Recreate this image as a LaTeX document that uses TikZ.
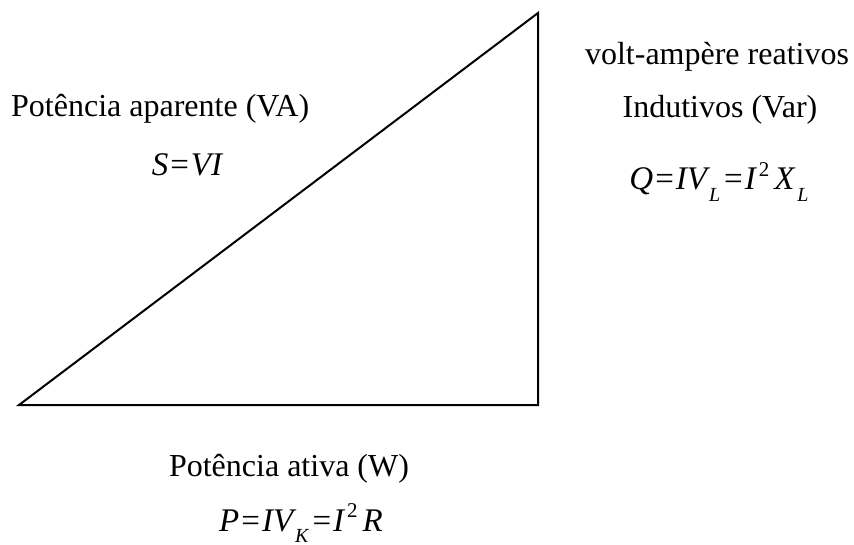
\documentclass[tikz,border=0pt]{standalone}
\usepackage{fontspec}
\setmainfont{Liberation Serif}
\newcommand\lsub[1]{\raisebox{-0.36em}[\height][0pt]{\fontsize{20}{20}\selectfont\itshape #1}}
\newcommand\lsup[1]{\raisebox{0.42em}{\fontsize{21}{21}\selectfont #1}}
\newcommand\eqs{\kern2pt=\kern2pt}
\begin{document}
\begin{tikzpicture}[x=1pt,y=-1pt,
  lbl/.style={inner sep=0pt,anchor=base,font=\fontsize{32}{38}\selectfont},
  eqn/.style={inner sep=0pt,anchor=base,font=\fontsize{33}{38}\selectfont},
  edge/.style={line width=2pt,line join=miter}]
\useasboundingbox (0,0) rectangle (854,545);
\coordinate (A) at (19,405);
\coordinate (B) at (538,405);
\coordinate (C) at (538,13);
\draw[edge] (A) -- (B) -- (C) -- cycle;
\node[lbl,anchor=base west] (ap) at (11,117) {Potência aparente (VA)};
\node[eqn] (s) at (187,176) {{\itshape S}\eqs{\itshape VI}};
\node[lbl] (va) at (717,65) {volt-ampère reativos};
\node[lbl] (ind) at (720,118) {Indutivos (Var)};
\node[eqn] (q) at (719,190) {{\itshape Q}\eqs{\itshape IV}\kern2pt\lsub{L}\kern4pt=\kern2pt{\itshape I}\kern3pt\lsup{2}\kern5pt{\itshape X}\kern3pt\lsub{L}};
\node[lbl] (at) at (289,476) {Potência ativa (W)};
\node[eqn] (p) at (301,531) {{\itshape P}\eqs{\itshape IV}\kern2pt\lsub{K}\kern4pt=\kern2pt{\itshape I}\kern3pt\lsup{2}\kern5pt{\itshape R}};
\end{tikzpicture}
\end{document}
